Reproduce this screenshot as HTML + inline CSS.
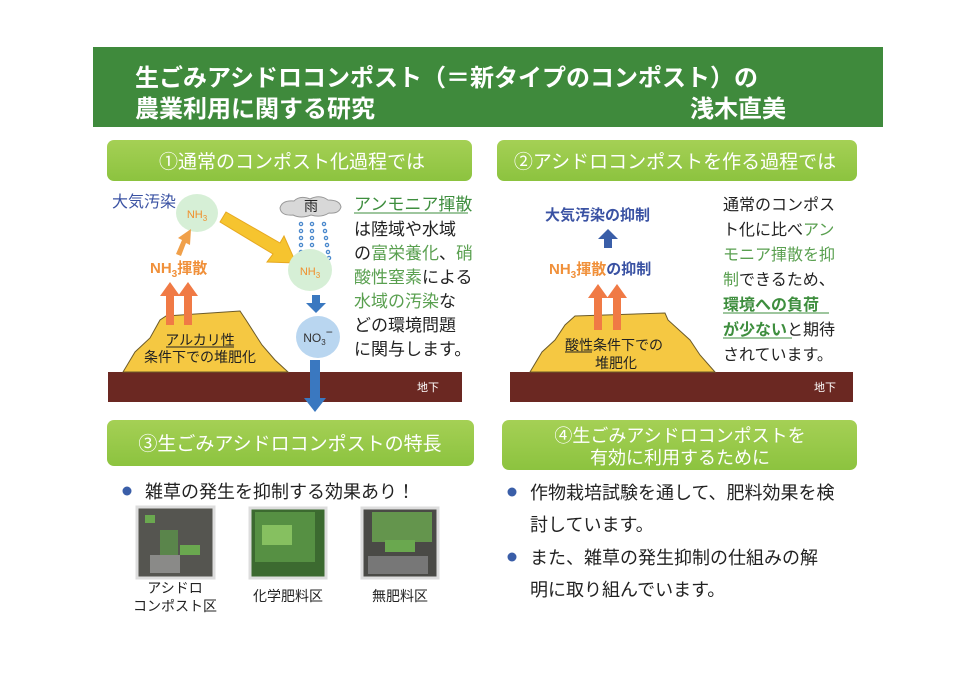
<!DOCTYPE html>
<html><head><meta charset="utf-8"><style>
html,body{margin:0;padding:0;background:#fff;}
svg{display:block;}
text{font-family:"Liberation Sans","Noto Sans CJK JP",sans-serif;}
</style></head><body>
<svg width="970" height="685" viewBox="0 0 970 685" xmlns="http://www.w3.org/2000/svg">
<defs>
<linearGradient id="lg" x1="0" y1="0" x2="0" y2="1"><stop offset="0" stop-color="#a5d055"/><stop offset="1" stop-color="#8cc33f"/></linearGradient>
</defs>
<rect width="970" height="685" fill="#fff"/>
<rect x="93" y="47" width="790" height="80" fill="#3f8a3c"/>
<text x="135" y="86" font-size="24" font-weight="bold" fill="#fff">生ごみアシドロコンポスト（＝新タイプのコンポスト）の</text>
<text x="135" y="117" font-size="24" font-weight="bold" fill="#fff">農業利用に関する研究</text>
<text x="690" y="117" font-size="24" font-weight="bold" fill="#fff">浅木直美</text>

<rect x="107" y="140" width="365" height="41" rx="7" fill="url(#lg)"/>
<text x="292" y="168" font-size="19" fill="#fff" text-anchor="middle">①通常のコンポスト化過程では</text>
<rect x="497" y="140" width="360" height="41" rx="7" fill="url(#lg)"/>
<text x="675" y="168" font-size="19" fill="#fff" text-anchor="middle">②アシドロコンポストを作る過程では</text>
<rect x="107" y="420" width="367" height="46" rx="7" fill="url(#lg)"/>
<text x="290" y="450" font-size="19" fill="#fff" text-anchor="middle">③生ごみアシドロコンポストの特長</text>
<rect x="502" y="420" width="355" height="50" rx="7" fill="url(#lg)"/>
<text x="680" y="442" font-size="18" fill="#fff" text-anchor="middle">④生ごみアシドロコンポストを</text>
<text x="680" y="464" font-size="18" fill="#fff" text-anchor="middle">有効に利用するために</text>

<rect x="108" y="372" width="354" height="30" fill="#6b2822"/>
<text x="428" y="391" font-size="11" fill="#fff" text-anchor="middle">地下</text>
<path d="M123,372 L135,352 L150,338 L160,320 L166,316 L240,311 L246,320 L262,345 L275,360 L288,372 Z" fill="#f5c842" stroke="#6b5a2a" stroke-width="1"/>
<text x="112" y="207" font-size="16" fill="#3a52a3">大気汚染</text>
<ellipse cx="197" cy="213" rx="21" ry="19" fill="#d6efd6"/>
<text x="197" y="218" font-size="11" fill="#f0902e" text-anchor="middle">NH<tspan font-size="8" dy="3">3</tspan></text>
<polygon points="220,222 226,212 280,243 284,236 296,263 267,262 273,254" fill="#f6c42f" stroke="#e6a820" stroke-width="1"/>
<polygon points="176,254 182,240 178,238 191,229 190,245 186,243 181,256" fill="#f0a04a"/>
<text x="150" y="273" font-size="15" font-weight="bold" fill="#f0903a">NH<tspan font-size="10" dy="4">3</tspan><tspan dy="-4">揮散</tspan></text>
<polygon points="166,325 174,325 174,296 180,296 170,282 160,296 166,296" fill="#f07a45"/>
<polygon points="184,325 192,325 192,296 198,296 188,282 178,296 184,296" fill="#f07a45"/>
<text x="200" y="345" font-size="14" fill="#222" text-anchor="middle">アルカリ性</text>
<line x1="166" y1="347" x2="234" y2="347" stroke="#222" stroke-width="1"/>
<text x="200" y="362" font-size="14" fill="#222" text-anchor="middle">条件下での堆肥化</text>
<path d="M280,208 q2,-8 14,-7 q6,-6 16,-2 q10,-5 18,1 q12,0 13,7 q-2,7 -12,6 q-8,5 -18,2 q-10,4 -18,0 q-12,1 -13,-7z" fill="#d8d8d8" stroke="#999"/>
<text x="311" y="211" font-size="14" fill="#222" text-anchor="middle">雨</text>
<g fill="none" stroke="#4a88cc" stroke-width="1.3">
<circle cx="301" cy="224" r="1.6"/><circle cx="301" cy="231" r="1.6"/><circle cx="301" cy="238" r="1.6"/><circle cx="301" cy="245" r="1.6"/><circle cx="301" cy="252" r="1.6"/><circle cx="299" cy="258" r="1.6"/>
<circle cx="312" cy="224" r="1.6"/><circle cx="312" cy="231" r="1.6"/><circle cx="312" cy="238" r="1.6"/><circle cx="312" cy="245" r="1.6"/><circle cx="312" cy="252" r="1.6"/><circle cx="312" cy="259" r="1.6"/>
<circle cx="324" cy="224" r="1.6"/><circle cx="325" cy="231" r="1.6"/><circle cx="326" cy="238" r="1.6"/><circle cx="327" cy="245" r="1.6"/><circle cx="328" cy="252" r="1.6"/><circle cx="329" cy="258" r="1.6"/>
</g>
<ellipse cx="310" cy="270" rx="22" ry="21" fill="#d6efd6"/>
<text x="310" y="275" font-size="11" fill="#f0902e" text-anchor="middle">NH<tspan font-size="8" dy="3">3</tspan></text>
<polygon points="312,295 320,295 320,303 326,303 316,313 306,303 312,303" fill="#3a78c0"/>
<ellipse cx="318" cy="337" rx="22" ry="21" fill="#b9d6f0"/>
<text x="318" y="342" font-size="12" fill="#333" text-anchor="middle">NO<tspan font-size="8" dy="3">3</tspan><tspan dy="-9">−</tspan></text>
<polygon points="310,360 320,360 320,398 326,398 315,412 304,398 310,398" fill="#3a78c0"/>
<g font-size="17" fill="#222">
<text x="354" y="210" fill="#3e8e3e">アンモニア揮散</text>
<line x1="354" y1="213" x2="468" y2="213" stroke="#3e8e3e"/>
<text x="354" y="235">は陸域や水域</text>
<text x="354" y="259">の<tspan fill="#5aa050">富栄養化</tspan>、<tspan fill="#5aa050">硝</tspan></text>
<text x="354" y="283"><tspan fill="#5aa050">酸性窒素</tspan>による</text>
<text x="354" y="307"><tspan fill="#5aa050">水域の汚染</tspan>な</text>
<text x="354" y="331">どの環境問題</text>
<text x="354" y="355">に関与します。</text>
</g>

<rect x="510" y="372" width="343" height="30" fill="#6b2822"/>
<text x="825" y="391" font-size="11" fill="#fff" text-anchor="middle">地下</text>
<path d="M530,372 L542,352 L555,340 L565,325 L575,316 L665,313 L668,320 L690,340 L700,355 L715,372 Z" fill="#f5c842" stroke="#6b5a2a" stroke-width="1"/>
<text x="545" y="220" font-size="15" font-weight="bold" fill="#3a52a3">大気汚染の抑制</text>
<polygon points="604,248 612,248 612,239 618,239 608,229 598,239 604,239" fill="#3a5ea8"/>
<text x="549" y="274" font-size="15" font-weight="bold" fill="#f0903a">NH<tspan font-size="10" dy="4">3</tspan><tspan dy="-4">揮散</tspan><tspan fill="#3a52a3">の抑制</tspan></text>
<polygon points="594,330 602,330 602,298 608,298 598,284 588,298 594,298" fill="#f07a45"/>
<polygon points="613,330 621,330 621,298 627,298 617,284 607,298 613,298" fill="#f07a45"/>
<text x="565" y="350" font-size="14" fill="#222">酸性条件下での</text>
<line x1="565" y1="352" x2="592" y2="352" stroke="#222"/>
<text x="595" y="368" font-size="14" fill="#222">堆肥化</text>
<g font-size="16" fill="#222">
<text x="723" y="210">通常のコンポス</text>
<text x="723" y="235">ト化に比べ<tspan fill="#5aa050">アン</tspan></text>
<text x="723" y="260" fill="#5aa050">モニア揮散を抑</text>
<text x="723" y="285"><tspan fill="#5aa050">制</tspan>できるため、</text>
<text x="723" y="310" fill="#3e8e3e" font-weight="bold">環境への負荷</text>
<line x1="723" y1="313" x2="829" y2="313" stroke="#3e8e3e"/>
<text x="723" y="335"><tspan fill="#3e8e3e" font-weight="bold">が少ない</tspan>と期待</text>
<line x1="723" y1="338" x2="792" y2="338" stroke="#3e8e3e"/>
<text x="723" y="360">されています。</text>
</g>

<circle cx="127" cy="491" r="4.5" fill="#3a5ea8"/>
<text x="145" y="498" font-size="18" fill="#222">雑草の発生を抑制する効果あり！</text>
<g>
<rect x="137" y="507" width="77" height="71" fill="#555550" stroke="#ddd" stroke-width="3"/>
<rect x="145" y="515" width="10" height="8" fill="#6aa84f"/><rect x="160" y="530" width="18" height="28" fill="#5c9a48" opacity=".7"/><rect x="180" y="545" width="20" height="10" fill="#6aa84f"/><rect x="150" y="555" width="30" height="18" fill="#8a8a88"/>
<rect x="250" y="508" width="76" height="70" fill="#3c6a30" stroke="#ddd" stroke-width="3"/>
<rect x="255" y="512" width="60" height="50" fill="#5c9a48" opacity=".8"/><rect x="262" y="525" width="30" height="20" fill="#86c060"/>
<rect x="362" y="508" width="76" height="70" fill="#4a4a46" stroke="#ddd" stroke-width="3"/>
<rect x="372" y="512" width="60" height="30" fill="#6aa84f" opacity=".8"/><rect x="385" y="540" width="30" height="12" fill="#6aa84f"/><rect x="368" y="556" width="60" height="18" fill="#777"/>
</g>
<g font-size="14" fill="#222" text-anchor="middle">
<text x="175" y="593">アシドロ</text>
<text x="175" y="611">コンポスト区</text>
<text x="288" y="601">化学肥料区</text>
<text x="400" y="601">無肥料区</text>
</g>

<circle cx="512" cy="492" r="4.5" fill="#3a5ea8"/>
<circle cx="512" cy="557" r="4.5" fill="#3a5ea8"/>
<g font-size="18" fill="#222">
<text x="530" y="499">作物栽培試験を通して、肥料効果を検</text>
<text x="530" y="531">討しています。</text>
<text x="530" y="564">また、雑草の発生抑制の仕組みの解</text>
<text x="530" y="596">明に取り組んでいます。</text>
</g>
</svg>
</body></html>
